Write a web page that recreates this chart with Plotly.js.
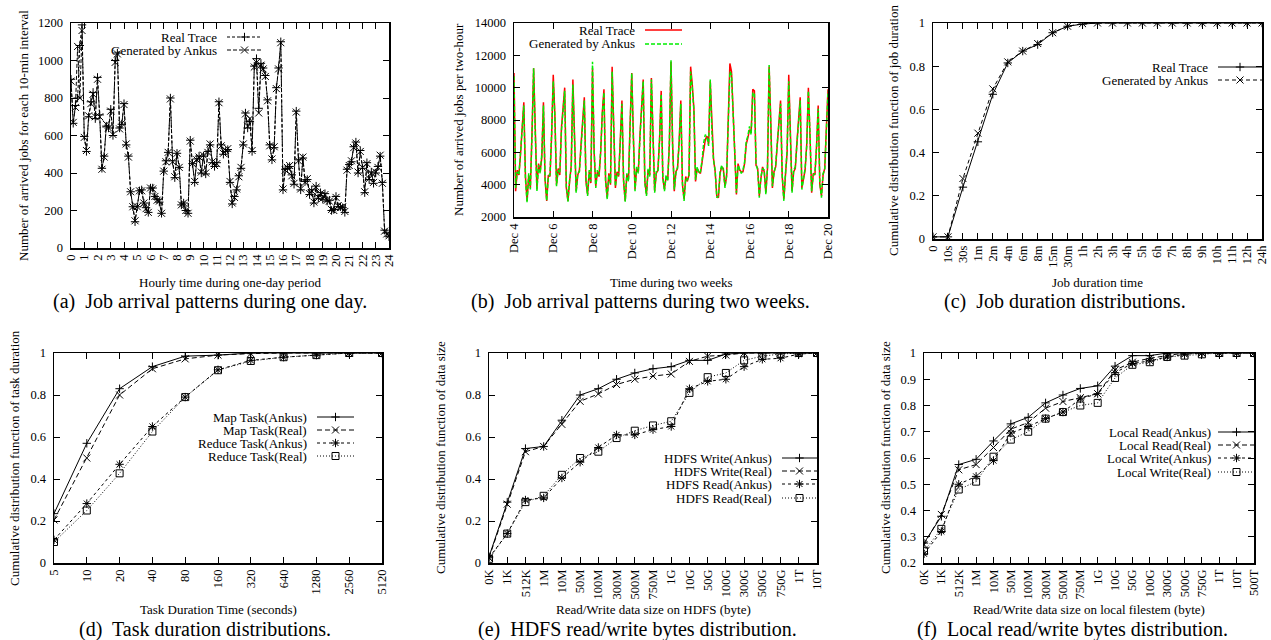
<!DOCTYPE html>
<html><head><meta charset="utf-8">
<script src="https://cdn.plot.ly/plotly-3.0.1.min.js"></script>
<style>html,body{margin:0;padding:0;background:#fff}#chart{width:1271px;height:640px}</style>
</head><body><div id="chart"></div>
<script>
// ---------------- DATA ----------------
// (a) jobs per 10-min interval over one day (0:00 .. 24:00)
const dayIntervalMinutes = 10;
const dayReal = [
  900, 665, 760, 800, 1080, 1190,
  595, 515, 700, 780, 830, 690,
  910, 710, 425, 490, 650, 640,
  740, 600, 1000, 1040, 640, 660,
  770, 550, 490, 300, 220, 140,
  220, 305, 310, 240, 215, 190,
  320, 320, 275, 260, 245, 185,
  410, 465, 510, 800, 465, 375,
  505, 430, 230, 240, 200, 185,
  575, 450, 350, 475, 490, 400,
  490, 395, 515, 550, 455, 435,
  455, 780, 550, 500, 515, 525,
  350, 235, 275, 310, 385, 425,
  550, 720, 640, 675, 515, 970,
  1010, 745, 985, 960, 920, 790,
  550, 470, 535, 855, 960, 1100,
  310, 420, 425, 435, 390, 340,
  730, 470, 310, 480, 355, 365,
  285, 310, 240, 330, 265, 295,
  260, 290, 250, 255, 200, 205,
  275, 220, 220, 215, 190, 420,
  445, 460, 540, 565, 400, 520,
  425, 295, 455, 365, 405, 345,
  400, 435, 490, 350, 95, 80,
  60];
const dayAnkus = [
  890, 670, 750, 1075, 800, 1160,
  590, 520, 705, 770, 820, 700,
  900, 700, 420, 485, 660, 640,
  730, 605, 990, 1035, 635, 665,
  765, 555, 485, 300, 220, 145,
  220, 305, 305, 240, 210, 190,
  320, 315, 275, 255, 250, 185,
  410, 460, 510, 795, 460, 380,
  505, 430, 230, 240, 200, 185,
  570, 450, 355, 470, 485, 405,
  495, 400, 510, 555, 460, 440,
  450, 775, 545, 505, 520, 530,
  355, 240, 270, 315, 380, 430,
  555, 715, 650, 690, 520, 965,
  990, 720, 975, 955, 915, 785,
  545, 475, 540, 850, 955, 1095,
  315, 415, 430, 440, 385, 345,
  725, 465, 315, 485, 350, 370,
  290, 305, 245, 325, 270, 290,
  265, 285, 255, 250, 205, 200,
  270, 225, 215, 220, 195, 415,
  440, 465, 535, 560, 405, 515,
  430, 300, 450, 370, 400, 350,
  405, 430, 495, 345, 90, 75,
  65];
const dayTicks = [0,1,2,3,4,5,6,7,8,9,10,11,12,13,14,15,16,17,18,19,20,21,22,23,24];

// (b) jobs per two-hour over two weeks (Dec 4 .. Dec 20)
const weekStartDay = 4;
const weekIntervalHours = 2;
const weekReal = [
  10900, 3600, 4900, 4600, 5900, 7600, 9100, 4500, 3000, 4600, 3800, 7200,
  11200, 7500, 3700, 5300, 4800, 5700, 9100, 4300, 3000, 4600, 4500, 7000,
  10800, 8300, 4000, 5000, 4600, 7500, 8800, 10000, 3800, 3000, 4200, 5200,
  10500, 7000, 3600, 4600, 4900, 6500, 8000, 9400, 4200, 3400, 4800, 4100,
  11200, 6000, 3900, 4800, 4500, 6000, 8500, 9900, 4300, 3200, 4700, 4000,
  11300, 7500, 3800, 4800, 4500, 6800, 9200, 4200, 3000, 4600, 4300, 7800,
  10900, 7000, 3700, 5000, 4800, 7000, 8500, 10500, 4200, 3400, 4900, 4600,
  10600, 7000, 3600, 4700, 4900, 6800, 9800, 4400, 3700, 4500, 4300, 6500,
  11600, 6500, 3600, 4800, 5000, 6700, 9200, 4000, 3100, 4500, 4200, 4600,
  11300, 10200, 8700, 4200, 5000, 4800, 4700, 5400, 6300, 6800, 7000, 6500,
  10400, 7500, 5600, 4800, 3300, 3200, 4700, 5100, 5000, 3900, 4500, 8000,
  11500, 11000, 8500, 5600, 3400, 5300, 4900, 4800, 4800, 5300, 6500, 6900,
  7400, 7200, 9900, 9800, 5200, 5000, 3300, 4400, 5100, 4800, 3500, 5000,
  11300, 8000, 3800, 4800, 5100, 6500, 8000, 9200, 4500, 3100, 4600, 6000,
  10800, 7500, 3600, 4800, 5000, 6600, 8200, 9400, 3800, 4400, 4900, 6500,
  10000, 7000, 3500, 4700, 4600, 6400, 8900, 4000, 3300, 4600, 5000, 7500,
  9900];
const weekAnkus = [
  10700, 3800, 4800, 4600, 6000, 7400, 8900, 4300, 2900, 4700, 3700, 7000,
  11200, 7200, 3600, 5200, 4700, 5900, 8900, 4400, 3000, 4500, 4600, 7200,
  10400, 8200, 3900, 4900, 4700, 7300, 8600, 9800, 3900, 2950, 4300, 5000,
  10200, 7100, 3500, 4700, 4800, 6300, 7800, 9200, 4300, 3300, 4900, 4200,
  11600, 6200, 3800, 4900, 4600, 6100, 8300, 9700, 4200, 3100, 4600, 4100,
  11000, 7300, 3900, 4700, 4600, 6600, 9000, 4300, 2950, 4700, 4200, 7600,
  10900, 6800, 3600, 5100, 4700, 6900, 8700, 10400, 4100, 3300, 5000, 4500,
  10500, 6900, 3500, 4800, 4800, 6700, 9600, 4500, 3600, 4600, 4200, 6700,
  11700, 6300, 3700, 4700, 5100, 6600, 9000, 4100, 3000, 4400, 4300, 4500,
  11000, 10000, 8600, 4300, 5100, 4700, 4800, 5500, 6600, 7100, 6900, 6400,
  10500, 7300, 5500, 4900, 3200, 3300, 4800, 5200, 4900, 3800, 4600, 7800,
  11000, 10800, 8300, 5500, 3500, 5200, 5000, 4700, 4900, 5400, 6700, 7000,
  7600, 7100, 9700, 9600, 5300, 4900, 3200, 4500, 5000, 4900, 3400, 5100,
  11400, 7800, 3900, 4700, 5200, 6600, 7800, 9000, 4600, 3000, 4700, 6100,
  10400, 7300, 3500, 4900, 5100, 6500, 8000, 9200, 3700, 4500, 5000, 6400,
  9800, 7100, 3600, 4600, 4700, 6300, 8700, 4100, 3200, 4700, 4900, 7300,
  9800];
const weekTickDays = [4,6,8,10,12,14,16,18,20];
const weekTickText = ['Dec 4','Dec 6','Dec 8','Dec 10','Dec 12','Dec 14','Dec 16','Dec 18','Dec 20'];

// (c) job duration CDF
const jobDurCats = ['0','10s','30s','1m','2m','4m','6m','8m','15m','30m','1h','2h','3h','4h','5h','6h','7h','8h','9h','10h','11h','12h','24h'];
const jobDurReal  = [0.01,0.01,0.24,0.45,0.67,0.815,0.87,0.90,0.955,0.985,0.995,1,1,1,1,1,1,1,1,1,1,1,1];
const jobDurAnkus = [0.01,0.01,0.28,0.49,0.695,0.82,0.87,0.905,0.955,0.985,0.997,1,1,1,1,1,1,1,1,1,1,1,1];

// (d) task duration CDF
const taskCats = ['5','10','20','40','80','160','320','640','1280','2560','5120'];
const mapAnkus    = [0.235,0.57,0.83,0.935,0.985,0.99,1.0,1.0,1.0,1.0,1.0];
const mapReal     = [0.205,0.50,0.80,0.925,0.972,0.99,0.997,1.0,1.0,1.0,1.0];
const reduceAnkus = [0.11,0.283,0.47,0.65,0.79,0.92,0.965,0.98,0.99,1.0,1.0];
const reduceReal  = [0.10,0.25,0.427,0.626,0.79,0.918,0.962,0.98,0.99,1.0,1.0];

// (e) HDFS read/write CDF
const hdfsCats = ['0K','1K','512K','1M','10M','50M','100M','300M','500M','750M','1G','10G','50G','100G','300G','500G','750G','1T','10T'];
const hdfsWriteAnkus = [0.03,0.29,0.545,0.555,0.68,0.80,0.83,0.875,0.905,0.925,0.935,0.965,0.965,0.995,1,1,1,1,1];
const hdfsWriteReal  = [0.025,0.28,0.53,0.555,0.66,0.77,0.805,0.85,0.875,0.89,0.90,0.96,0.985,0.99,1,1,1,1,1];
const hdfsReadAnkus  = [0.025,0.14,0.30,0.31,0.405,0.48,0.55,0.61,0.61,0.635,0.65,0.83,0.865,0.875,0.935,0.97,0.975,0.995,1];
const hdfsReadReal   = [0.02,0.14,0.29,0.32,0.42,0.50,0.53,0.595,0.63,0.655,0.675,0.81,0.885,0.905,0.965,0.985,0.995,1,1];

// (f) local read/write CDF
const localCats = ['0K','1K','512K','1M','10M','50M','100M','300M','500M','750M','1G','10G','50G','100G','300G','500G','750G','1T','10T','500T'];
const localReadAnkus  = [0.276,0.378,0.575,0.595,0.665,0.73,0.755,0.81,0.84,0.865,0.875,0.95,0.99,0.99,1,1,1,1,1,1];
const localReadReal   = [0.27,0.385,0.555,0.575,0.64,0.71,0.735,0.79,0.815,0.83,0.845,0.935,0.965,0.98,0.99,1,1,1,1,1];
const localWriteAnkus = [0.235,0.32,0.50,0.53,0.59,0.695,0.72,0.75,0.775,0.825,0.845,0.925,0.96,0.97,0.985,0.995,1,1,1,1];
const localWriteReal  = [0.245,0.33,0.48,0.51,0.605,0.67,0.70,0.75,0.775,0.80,0.81,0.905,0.955,0.965,0.985,0.99,0.995,1,1,1];

// ---------------- LAYOUT HELPERS ----------------
const W = 1271, H = 640;
const FONT = '"Liberation Serif", "Times New Roman", Times, serif';
const TICK = 12.5, TITLE = 13, LEG = 13, CAP = 20;
const px = x => x / W;
const py = y => 1 - y / H;
const domX = (l, r) => [l / W, r / W];
const domY = (t, b) => [1 - b / H, 1 - t / H];

function axis(extra) {
  return Object.assign({
    showline: true, linecolor: '#000', linewidth: 1.5, mirror: 'ticks',
    ticks: 'inside', ticklen: 6, tickwidth: 1, tickcolor: '#000',
    showgrid: false, zeroline: false, fixedrange: true,
    tickfont: { family: FONT, size: TICK, color: '#000' }
  }, extra);
}

const SYM = { plus: 'cross-thin-open', cross: 'x-thin-open', star: 'asterisk-open', square: 'square-open' };
const SYMSIZE = { plus: 6, cross: 7, star: 7, square: 7 };

function line(xa, ya, x, y, dash, sym, color, width) {
  const t = {
    type: 'scatter', x: x, y: y, xaxis: xa, yaxis: ya,
    mode: sym ? 'lines+markers' : 'lines', hoverinfo: 'skip', showlegend: false,
    line: { color: color || '#000', width: width || 1, dash: dash || 'solid' }
  };
  if (sym) t.marker = { symbol: SYM[sym], size: SYMSIZE[sym], color: '#000', line: { color: '#000', width: 1 } };
  return t;
}

// ---------------- TRACES ----------------
const dayX = dayReal.map((_, i) => i * dayIntervalMinutes / 60);
const weekX = weekReal.map((_, i) => weekStartDay + i * weekIntervalHours / 24);

const DASH_A = '3px,2px', DASH_B = '5px,3px', DASH_C = '3px,3px', DOT = '1px,2px';

const traces = [
  line('x', 'y', dayX, dayReal, DASH_A, 'plus'),
  line('x', 'y', dayX, dayAnkus, '4px,2px', 'cross'),
  line('x2', 'y2', weekX, weekReal, 'solid', null, '#ff0000', 1.5),
  line('x2', 'y2', weekX, weekAnkus, '4px,2px', null, '#00ee00', 1.5),
  line('x3', 'y3', jobDurCats, jobDurReal, 'solid', 'plus'),
  line('x3', 'y3', jobDurCats, jobDurAnkus, '4px,3px', 'cross'),
  line('x4', 'y4', taskCats, mapAnkus, 'solid', 'plus'),
  line('x4', 'y4', taskCats, mapReal, DASH_B, 'cross'),
  line('x4', 'y4', taskCats, reduceAnkus, DASH_C, 'star'),
  line('x4', 'y4', taskCats, reduceReal, DOT, 'square'),
  line('x5', 'y5', hdfsCats, hdfsWriteAnkus, 'solid', 'plus'),
  line('x5', 'y5', hdfsCats, hdfsWriteReal, DASH_B, 'cross'),
  line('x5', 'y5', hdfsCats, hdfsReadAnkus, DASH_C, 'star'),
  line('x5', 'y5', hdfsCats, hdfsReadReal, DOT, 'square'),
  line('x6', 'y6', localCats, localReadAnkus, 'solid', 'plus'),
  line('x6', 'y6', localCats, localReadReal, DASH_B, 'cross'),
  line('x6', 'y6', localCats, localWriteAnkus, DASH_C, 'star'),
  line('x6', 'y6', localCats, localWriteReal, DOT, 'square')
];

// ---------------- ANNOTATIONS / SHAPES ----------------
const annotations = [];
const shapes = [];
function text(x, y, t, size, anchor, angle) {
  annotations.push({ xref: 'paper', yref: 'paper', x: px(x), y: py(y), text: t, showarrow: false,
    xanchor: anchor || 'center', yanchor: 'middle', textangle: angle || 0, borderpad: 0,
    font: { family: FONT, size: size, color: '#000' } });
}
function glyph(sym, cx, cy) {
  const P = (x, y) => px(x) + ',' + py(y);
  let d = '';
  if (sym === 'plus' || sym === 'star') { const s = 4.2; d += 'M' + P(cx - s, cy) + 'L' + P(cx + s, cy) + 'M' + P(cx, cy - s) + 'L' + P(cx, cy + s); }
  if (sym === 'cross') { const s = 3.5; d += 'M' + P(cx - s, cy - s) + 'L' + P(cx + s, cy + s) + 'M' + P(cx - s, cy + s) + 'L' + P(cx + s, cy - s); }
  if (sym === 'star') { const s = 3; d += 'M' + P(cx - s, cy - s) + 'L' + P(cx + s, cy + s) + 'M' + P(cx - s, cy + s) + 'L' + P(cx + s, cy - s); }
  if (sym === 'square') { const s = 3.5; d += 'M' + P(cx - s, cy - s) + 'L' + P(cx + s, cy - s) + 'L' + P(cx + s, cy + s) + 'L' + P(cx - s, cy + s) + 'Z'; }
  shapes.push({ type: 'path', xref: 'paper', yref: 'paper', path: d, line: { color: '#000', width: 1 } });
}
function legend(textRight, x0, x1, rows) {
  rows.forEach(r => {
    text(textRight, r.y, r.name, LEG, 'right');
    shapes.push({ type: 'line', xref: 'paper', yref: 'paper', x0: px(x0), x1: px(x1), y0: py(r.y), y1: py(r.y),
      line: { color: r.color || '#000', width: r.width || 1, dash: r.dash } });
    if (r.sym) glyph(r.sym, (x0 + x1) / 2, r.y);
  });
}

legend(218, 227, 262, [
  { y: 37, name: 'Real Trace', dash: DASH_A, sym: 'plus' },
  { y: 50, name: 'Generated by Ankus', dash: '4px,2px', sym: 'cross' }]);
legend(636, 645, 682, [
  { y: 30, name: 'Real Trace', dash: 'solid', color: '#ff0000', width: 1.5 },
  { y: 44, name: 'Generated by Ankus', dash: '4px,2px', color: '#00ee00', width: 1.5 }]);
legend(1209, 1218, 1262, [
  { y: 67, name: 'Real Trace', dash: 'solid', sym: 'plus' },
  { y: 80, name: 'Generated by Ankus', dash: '4px,3px', sym: 'cross' }]);
legend(308, 317, 354, [
  { y: 417, name: 'Map Task(Ankus)', dash: 'solid', sym: 'plus' },
  { y: 430, name: 'Map Task(Real)', dash: DASH_B, sym: 'cross' },
  { y: 443, name: 'Reduce Task(Ankus)', dash: DASH_C, sym: 'star' },
  { y: 456, name: 'Reduce Task(Real)', dash: DOT, sym: 'square' }]);
legend(773, 782, 817, [
  { y: 458, name: 'HDFS Write(Ankus)', dash: 'solid', sym: 'plus' },
  { y: 471, name: 'HDFS Write(Real)', dash: DASH_B, sym: 'cross' },
  { y: 484, name: 'HDFS Read(Ankus)', dash: DASH_C, sym: 'star' },
  { y: 498, name: 'HDFS Read(Real)', dash: DOT, sym: 'square' }]);
legend(1212, 1218, 1255, [
  { y: 432, name: 'Local Read(Ankus)', dash: 'solid', sym: 'plus' },
  { y: 445, name: 'Local Read(Real)', dash: DASH_B, sym: 'cross' },
  { y: 458, name: 'Local Write(Ankus)', dash: DASH_C, sym: 'star' },
  { y: 472, name: 'Local Write(Real)', dash: DOT, sym: 'square' }]);

// axis titles
text(230, 282, 'Hourly time during one-day period', TITLE);
text(23, 136, 'Number of arrived jobs for each 10-min interval', TITLE, 'center', -90);
text(671, 282, 'Time during two weeks', TITLE);
text(458, 120, 'Number of arrived jobs per two-hour', TITLE, 'center', -90);
text(1097, 282, 'Job duration time', TITLE);
text(893, 131, 'Cumulative distribution function of job duration', TITLE, 'center', -90);
text(218, 609, 'Task Duration Time (seconds)', TITLE);
text(14, 458, 'Cumulative distribution function of task duration', TITLE, 'center', -90);
text(653, 609, 'Read/Write data size on HDFS (byte)', TITLE);
text(440, 458, 'Cumulative distribution function of data size', TITLE, 'center', -90);
text(1089, 609, 'Read/Write data size on local filestem (byte)', TITLE);
text(885, 458, 'Cumulative distribution function of data size', TITLE, 'center', -90);

// captions
text(210, 301, '(a)  Job arrival patterns during one day.', CAP);
text(640, 301, '(b)  Job arrival patterns during two weeks.', CAP);
text(1065, 301, '(c)  Job duration distributions.', CAP);
text(205, 629, '(d)  Task duration distributions.', CAP);
text(637, 629, '(e)  HDFS read/write bytes distribution.', CAP);
text(1072, 629, '(f)  Local read/write bytes distribution.', CAP);

// ---------------- LAYOUT ----------------
const catAxis = (cats, l, r, anchor) => axis({ type: 'category', domain: domX(l, r), anchor: anchor,
  range: [0, cats.length - 1], tickmode: 'array', tickvals: cats, ticktext: cats, tickangle: -90 });

const layout = {
  width: W, height: H, margin: { l: 0, r: 0, t: 0, b: 0 },
  paper_bgcolor: '#fff', plot_bgcolor: '#fff', showlegend: false,
  font: { family: FONT, color: '#000' },
  xaxis: axis({ domain: domX(71, 389), anchor: 'y', range: [0, 24], tickmode: 'array', tickvals: dayTicks, ticktext: dayTicks.map(String), tickangle: -90 }),
  yaxis: axis({ domain: domY(23, 248), anchor: 'x', range: [0, 1200], dtick: 200, tick0: 0, tickformat: 'd', ticklabelstandoff: 4 }),
  xaxis2: axis({ domain: domX(514, 828), anchor: 'y2', range: [4, 20], tickmode: 'array', tickvals: weekTickDays, ticktext: weekTickText, tickangle: -90 }),
  yaxis2: axis({ domain: domY(23, 217), anchor: 'x2', range: [2000, 14000], dtick: 2000, tick0: 2000, tickformat: 'd', ticklabelstandoff: 4 }),
  xaxis3: catAxis(jobDurCats, 933, 1262, 'y3'),
  yaxis3: axis({ domain: domY(23, 239), anchor: 'x3', range: [0, 1], dtick: 0.2, tick0: 0, ticklabelstandoff: 4 }),
  xaxis4: catAxis(taskCats, 54, 382, 'y4'),
  yaxis4: axis({ domain: domY(353, 563), anchor: 'x4', range: [0, 1], dtick: 0.2, tick0: 0, ticklabelstandoff: 4 }),
  xaxis5: catAxis(hdfsCats, 489, 817, 'y5'),
  yaxis5: axis({ domain: domY(353, 563), anchor: 'x5', range: [0, 1], dtick: 0.2, tick0: 0, ticklabelstandoff: 4 }),
  xaxis6: catAxis(localCats, 924, 1254, 'y6'),
  yaxis6: axis({ domain: domY(353, 563), anchor: 'x6', range: [0.2, 1], dtick: 0.1, tick0: 0.2, ticklabelstandoff: 4 }),
  annotations: annotations,
  shapes: shapes
};

Plotly.newPlot('chart', traces, layout, { staticPlot: true, displayModeBar: false });
</script></body></html>
